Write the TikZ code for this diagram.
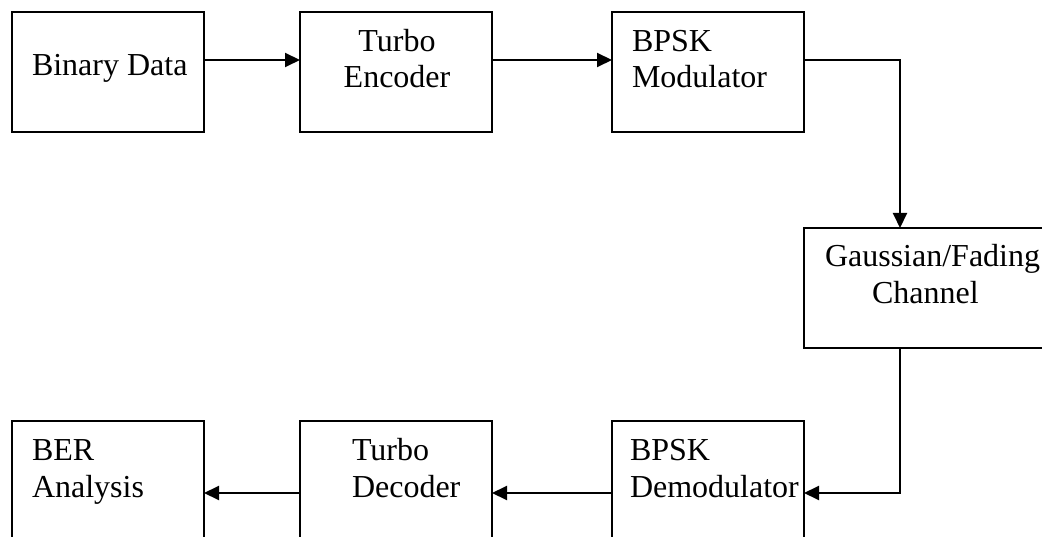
\documentclass[tikz,border=0pt]{standalone}
\usepackage{fontspec}
\setmainfont{Liberation Serif}
\usetikzlibrary{arrows.meta}

\begin{document}
\begin{tikzpicture}[x=1pt,y=-1pt,
  block/.style={draw=black,line width=2pt,minimum width=192pt,minimum height=120pt,
    inner sep=0pt,outer sep=0pt},
  txt/.style={inner sep=0pt,outer sep=0pt,font=\fontsize{32}{37}\selectfont},
  flow/.style={line width=2pt,-{Triangle[length=15pt,width=14pt]}}]
  \useasboundingbox (0,0) rectangle (1042,537);
  \clip (0,0) rectangle (1042,537);

  % transmitter chain
  \node[block] (bin) at (108,72) {};
  \node[block] (enc) at (396,72) {};
  \node[block] (mod) at (708,72) {};
  % channel (wider block running past the right margin)
  \node[block,minimum width=240pt] (chan) at (924,288) {};
  % receiver chain
  \node[block] (dem) at (708,481) {};
  \node[block] (dec) at (396,481) {};
  \node[block] (ber) at (108,481) {};

  % labels
  \node[txt,anchor=base west] (binA) at (32,76) {Binary Data};
  \node[txt,anchor=base] (encA) at (397,52) {Turbo};
  \node[txt,anchor=base] (encB) at (397,88) {Encoder};
  \node[txt,anchor=base west] (modA) at (632,52) {BPSK};
  \node[txt,anchor=base west] (modB) at (632,88) {Modulator};
  \node[txt,anchor=base west] (chanA) at (825,267) {Gaussian/Fading};
  \node[txt,anchor=base west] (chanB) at (872,304) {Channel};
  \node[txt,anchor=base west] (demA) at (630,460) {BPSK};
  \node[txt,anchor=base west] (demB) at (630,497) {Demodulator};
  \node[txt,anchor=base west] (decA) at (352,460) {Turbo};
  \node[txt,anchor=base west] (decB) at (352,497) {Decoder};
  \node[txt,anchor=base west] (berA) at (32,460) {BER};
  \node[txt,anchor=base west] (berB) at (32,497) {Analysis};

  % connectors
  \draw[flow] ([yshift=12pt]bin.east) -- ([yshift=12pt]enc.west);
  \draw[flow] ([yshift=12pt]enc.east) -- ([yshift=12pt]mod.west);
  \draw[flow] ([yshift=12pt]mod.east) -| ([xshift=-24pt]chan.north);
  \draw[flow] ([xshift=-24pt]chan.south) |- ([yshift=-12pt]dem.east);
  \draw[flow] ([yshift=-12pt]dem.west) -- ([yshift=-12pt]dec.east);
  \draw[flow] ([yshift=-12pt]dec.west) -- ([yshift=-12pt]ber.east);
\end{tikzpicture}
\end{document}
